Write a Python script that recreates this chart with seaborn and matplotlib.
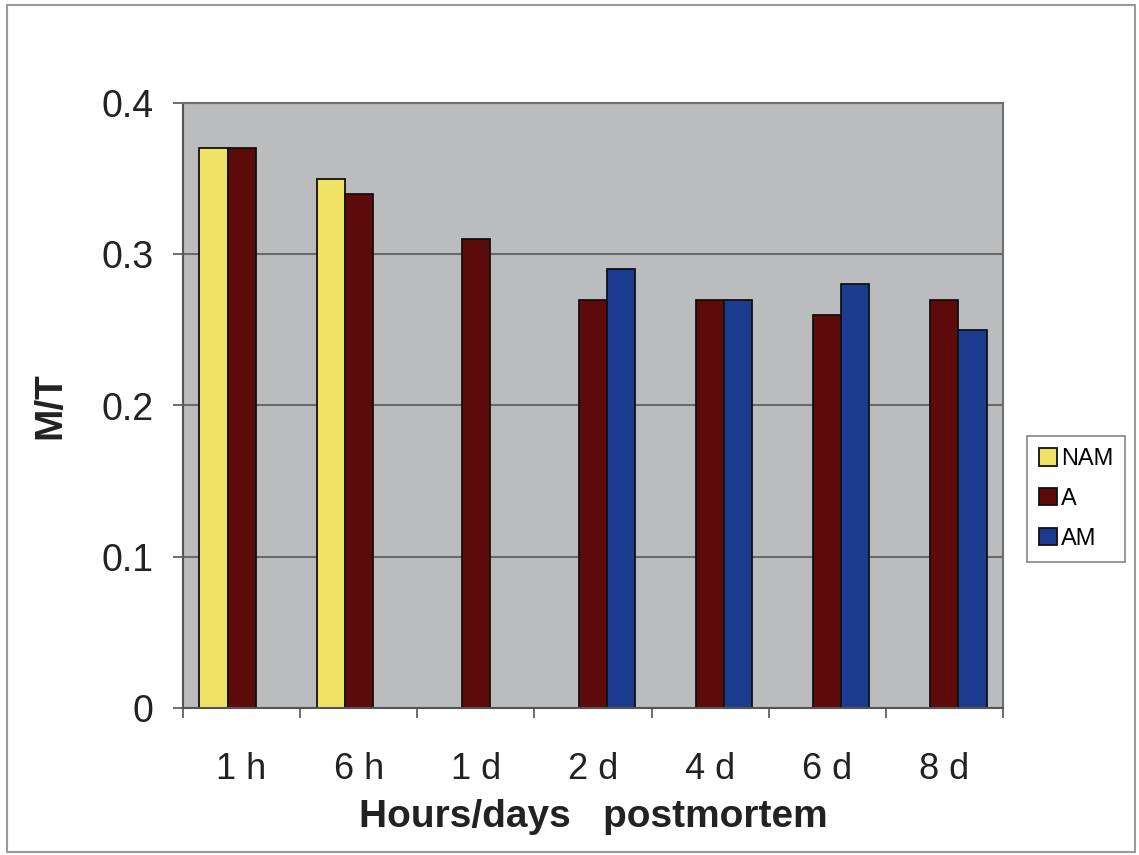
import matplotlib
matplotlib.use("Agg")
import matplotlib.pyplot as plt
import matplotlib.patches as mpatches
import numpy as np
import pandas as pd
import seaborn as sns

categories = ["1 h", "6 h", "1 d", "2 d", "4 d", "6 d", "8 d"]
series_names = ["NAM", "A", "AM"]
nam_values = [0.37, 0.35, np.nan, np.nan, np.nan, np.nan, np.nan]
a_values = [0.37, 0.34, 0.31, 0.27, 0.27, 0.26, 0.27]
am_values = [np.nan, np.nan, np.nan, 0.29, 0.27, 0.28, 0.25]
colors = ["#EFE264", "#5C0A0A", "#1B3C8E"]
y_ticks = [0, 0.1, 0.2, 0.3, 0.4]
y_tick_labels = ["0", "0.1", "0.2", "0.3", "0.4"]

rows = []
for name, vals in zip(series_names, [nam_values, a_values, am_values]):
    for c, v in zip(categories, vals):
        rows.append({"cat": c, "series": name, "val": v})
df = pd.DataFrame(rows)

plt.rcParams["font.family"] = ["Liberation Sans", "DejaVu Sans"]

W, H = 1139, 855
fig = plt.figure(figsize=(W / 100, H / 100), dpi=100)
fig.patch.set_facecolor("white")
ax = fig.add_axes([183 / W, 1 - 708 / H, (1003 - 183) / W, (708 - 103) / H])
ax.set_facecolor("#BABCBE")
ax.set_axisbelow(True)

sns.barplot(data=df, x="cat", y="val", hue="series", order=categories,
            hue_order=series_names, palette=colors, width=0.72,
            edgecolor="#111111", linewidth=1.3, ax=ax, legend=False,
            errorbar=None, saturation=1)

ax.set_ylim(0, 0.4)
ax.set_xlim(-0.5, len(categories) - 0.5)
ax.set_yticks(y_ticks)
ax.set_yticklabels(y_tick_labels)
ax.yaxis.grid(True, color="#6A6A6A", linewidth=1.5)
ax.xaxis.grid(False)

# category ticks at boundaries, labels at centers
ax.set_xticks(np.arange(-0.5, len(categories), 1.0))
ax.set_xticklabels([])
ax.set_xticks(np.arange(len(categories)), minor=True)
ax.set_xticklabels(categories, minor=True)
ax.tick_params(axis="x", which="major", length=7, width=1.2, color="#555555", direction="out")
ax.tick_params(axis="x", which="minor", length=0, pad=32, labelsize=26, labelcolor="#222222")
ax.tick_params(axis="y", length=7, width=1.2, color="#555555", pad=14, labelsize=27, labelcolor="#222222")

for s in ["left", "bottom"]:
    ax.spines[s].set_color("#555555")
    ax.spines[s].set_linewidth(1.5)
for s in ["top", "right"]:
    ax.spines[s].set_color("#707070")
    ax.spines[s].set_linewidth(1.5)

ax.set_xlabel("Hours/days   postmortem", fontsize=28, fontweight="bold", color="#222222")
ax.xaxis.set_label_coords(0.5, (708 - 817) / 605)
ax.xaxis.label.set_verticalalignment("center")
ax.set_ylabel("M/T", fontsize=28, fontweight="bold", color="#222222")
ax.yaxis.set_label_coords((50 - 183) / 820, 0.5)
ax.yaxis.label.set_verticalalignment("center")

handles = [mpatches.Patch(facecolor=c, edgecolor="#111111", linewidth=1.3, label=n)
           for c, n in zip(colors, series_names)]
leg = fig.legend(handles=handles, loc="center left",
                 bbox_to_anchor=(1027 / W, 1 - 499 / H), frameon=True,
                 fancybox=False, fontsize=17, handlelength=0.75, handleheight=0.75,
                 handletextpad=0.2, borderpad=0.5, labelspacing=0.75,
                 borderaxespad=0)
leg.get_frame().set_edgecolor("#666666")
leg.get_frame().set_linewidth(1.2)

# outer chart border
fig.patches.append(mpatches.Rectangle((7 / W, 1 - 852 / H), (1135 - 7) / W, (852 - 5) / H,
                                      transform=fig.transFigure, fill=False,
                                      edgecolor="#9A9A9A", linewidth=1.5))

fig.savefig("out.png", dpi=100)
